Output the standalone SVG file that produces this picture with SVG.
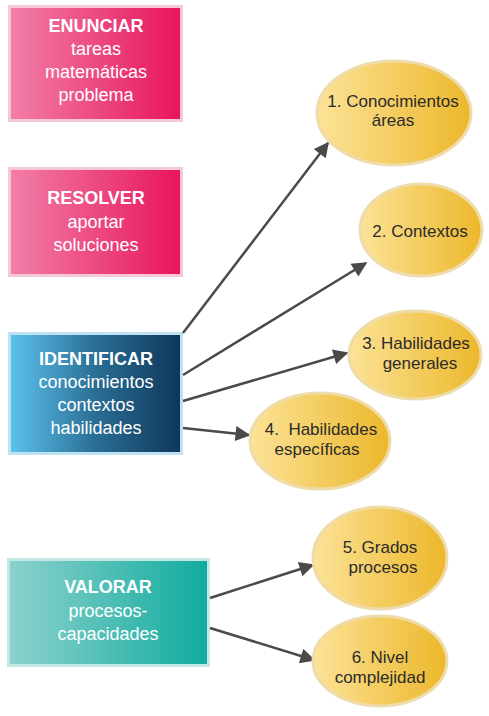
<svg xmlns="http://www.w3.org/2000/svg" width="489" height="716" viewBox="0 0 489 716">
<defs>
<linearGradient id="gPink" x1="0" y1="0" x2="1" y2="0"><stop offset="0" stop-color="#f27fa9"/><stop offset="1" stop-color="#e8145a"/></linearGradient>
<linearGradient id="gBlue" x1="0" y1="0" x2="1" y2="0"><stop offset="0" stop-color="#5cc3ee"/><stop offset="0.5" stop-color="#2a6e94"/><stop offset="1" stop-color="#0d3559"/></linearGradient>
<linearGradient id="gTeal" x1="0" y1="0" x2="1" y2="0"><stop offset="0" stop-color="#8dd2cd"/><stop offset="1" stop-color="#10ab9e"/></linearGradient>
<linearGradient id="gYel" x1="0" y1="0" x2="1" y2="0"><stop offset="0" stop-color="#fce398"/><stop offset="1" stop-color="#ecb72a"/></linearGradient>
<marker id="ah" viewBox="0 0 10 10" refX="9" refY="5" markerWidth="6.5" markerHeight="6" markerUnits="strokeWidth" orient="auto"><path d="M0,0 L10,5 L0,10 z" fill="#4a4a4a"/></marker>
</defs>
<style>
.bt{font-family:"Liberation Sans",Arial,sans-serif;font-size:18px;fill:#fff;text-anchor:middle}
.bb{font-weight:bold}
.et{font-family:"Liberation Sans",Arial,sans-serif;font-size:17px;fill:#2b2b2b;text-anchor:middle;white-space:pre}
.ell{fill:url(#gYel);stroke:#eedcab;stroke-width:3}
.con{stroke:#4a4a4a;stroke-width:2.5;fill:none;marker-end:url(#ah)}
</style>
<g id="n-enunciar">
<rect x="9.5" y="6.5" width="172" height="114" fill="url(#gPink)" stroke="#f4c9d4" stroke-width="3"/>
<text class="bt bb" x="96" y="32">ENUNCIAR</text>
<text class="bt" x="96" y="55">tareas</text>
<text class="bt" x="96" y="78">matemáticas</text>
<text class="bt" x="96" y="101">problema</text>
</g>
<g id="n-resolver">
<rect x="9.5" y="168.5" width="172" height="107" fill="url(#gPink)" stroke="#f4c9d4" stroke-width="3"/>
<text class="bt bb" x="96" y="204">RESOLVER</text>
<text class="bt" x="96" y="228">aportar</text>
<text class="bt" x="96" y="251">soluciones</text>
</g>
<g id="n-identificar">
<rect x="9.5" y="333.5" width="172" height="120" fill="url(#gBlue)" stroke="#bfe2f2" stroke-width="3"/>
<text class="bt bb" x="96" y="365">IDENTIFICAR</text>
<text class="bt" x="96" y="388">conocimientos</text>
<text class="bt" x="96" y="411">contextos</text>
<text class="bt" x="96" y="434">habilidades</text>
</g>
<g id="n-valorar">
<rect x="8.5" y="559.5" width="200" height="106" fill="url(#gTeal)" stroke="#c3e8e4" stroke-width="3"/>
<text class="bt bb" x="108" y="593">VALORAR</text>
<text class="bt" x="108" y="617">procesos-</text>
<text class="bt" x="108" y="640">capacidades</text>
</g>
<g id="connectors">
<line class="con" x1="183" y1="333" x2="328" y2="143"/>
<line class="con" x1="183" y1="375" x2="366" y2="263"/>
<line class="con" x1="183" y1="401" x2="347" y2="353"/>
<line class="con" x1="183" y1="428" x2="249" y2="435"/>
<line class="con" x1="210" y1="598" x2="313" y2="565"/>
<line class="con" x1="210" y1="628" x2="314" y2="660"/>
</g>
<g id="e1"><ellipse class="ell" cx="394" cy="113" rx="77" ry="52"/>
<text class="et" x="393" y="107">1. Conocimientos</text><text class="et" x="393" y="126">áreas</text></g>
<g id="e2"><ellipse class="ell" cx="421" cy="230" rx="61" ry="46"/>
<text class="et" x="420" y="237">2. Contextos</text></g>
<g id="e3"><ellipse class="ell" cx="415" cy="355" rx="66" ry="44"/>
<text class="et" x="416" y="349">3. Habilidades</text><text class="et" x="420" y="369">generales</text></g>
<g id="e4"><ellipse class="ell" cx="320" cy="441" rx="70" ry="48"/>
<text class="et" x="321" y="435" xml:space="preserve">4.  Habilidades</text><text class="et" x="317" y="455">específicas</text></g>
<g id="e5"><ellipse class="ell" cx="380" cy="558" rx="67" ry="51"/>
<text class="et" x="380" y="553">5. Grados</text><text class="et" x="383" y="573">procesos</text></g>
<g id="e6"><ellipse class="ell" cx="380" cy="661" rx="67" ry="45"/>
<text class="et" x="380" y="663">6. Nivel</text><text class="et" x="380" y="683">complejidad</text></g>
</svg>
